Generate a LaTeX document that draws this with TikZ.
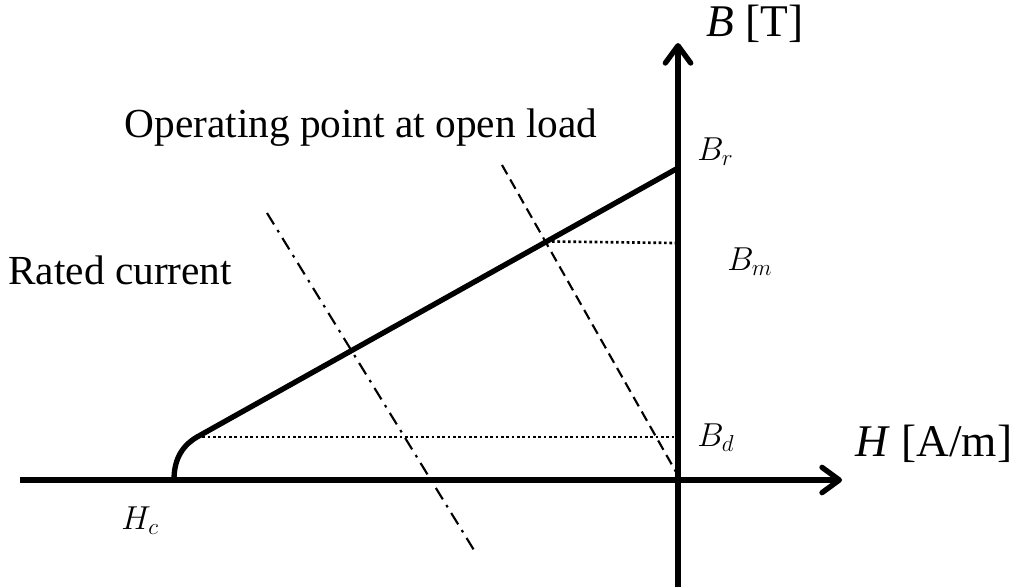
\documentclass[tikz,border=0pt]{standalone}
\usepackage{fontspec}
\setmainfont{Liberation Serif}
\usepackage{tikz}
\usetikzlibrary{arrows.meta,positioning,calc}
\tikzset{
  axis/.style   ={line width=4pt,-{Straight Barb[length=13pt,width=19pt,round]}},
  curve/.style  ={line width=4pt,line cap=round,line join=round},
  level/.style  ={line width=2pt,dash pattern=on 2pt off 2pt},
  openload/.style={line width=1.6pt,dash pattern=on 8pt off 4.5pt},
  rated/.style  ={line width=1.6pt,dash pattern=on 10pt off 5pt on 2pt off 5pt},
  lbl/.style    ={font=\fontsize{31}{33}\selectfont,inner sep=0pt},
  axlbl/.style  ={font=\fontsize{34}{36}\selectfont,inner sep=0pt},
  mlbl/.style   ={font=\fontsize{25}{27}\selectfont,inner sep=0pt},
}

\begin{document}
\begin{tikzpicture}[x=0.75pt,y=-0.75pt]
  \useasboundingbox (0,0) rectangle (1019,587);
  % anchor points (pixel grid, y downwards)
  \coordinate (O)    at (678,480);
  \coordinate (Hleft) at (20,480);
  \coordinate (Htip) at (842,480);
  \coordinate (Bbot) at (678,587);
  \coordinate (Btip) at (678,43);
  \coordinate (Br)   at (678,168);
  \coordinate (knee) at (197,437);
  \coordinate (Hc)   at (174,480);
  \coordinate (Bd)   at (678,437);
  \coordinate (Bm)   at (678,243);
  \coordinate (opA)  at (502,165);
  \coordinate (opB)  at (676,472);
  \coordinate (rcA)  at (267,213);
  \coordinate (rcB)  at (477,555);
  % axes
  \draw[axis] (Hleft) -- (Htip);
  \draw[axis] (Bbot) -- (Btip);
  % demagnetisation curve with its knee
  \draw[curve] (Br) -- (knee) .. controls (180,447) and (174,462) .. (Hc);
  % levels B_d and B_m
  \coordinate (mpt) at ($(knee)!0.727!(Br)$);
  \draw[level] (knee) -- (Bd);
  \draw[level] (mpt) -- (Bm);
  % load lines
  \draw[openload] (opA) -- (opB);
  \draw[rated] (rcA) -- (rcB);
  % labels
  \node[axlbl,anchor=west] (Blab) at (706,24) {\textit{B} [T]};
  \node[axlbl,anchor=west] (Hlab) at (855,444) {\textit{H} [A/m]};
  \node[lbl] (oplab) at (361,128) {Operating point at open load};
  \node[lbl,anchor=west] (rclab) at (8,270) {Rated current};
  \node[mlbl,anchor=west] (Brlab) at (697,152) {$B_r$};
  \node[mlbl,anchor=west] (Bmlab) at (727,262) {$B_m$};
  \node[mlbl,anchor=west] (Bdlab) at (697,438) {$B_d$};
  \node[mlbl] (Hclab) at (140,521) {$H_c$};
\end{tikzpicture}
\end{document}
